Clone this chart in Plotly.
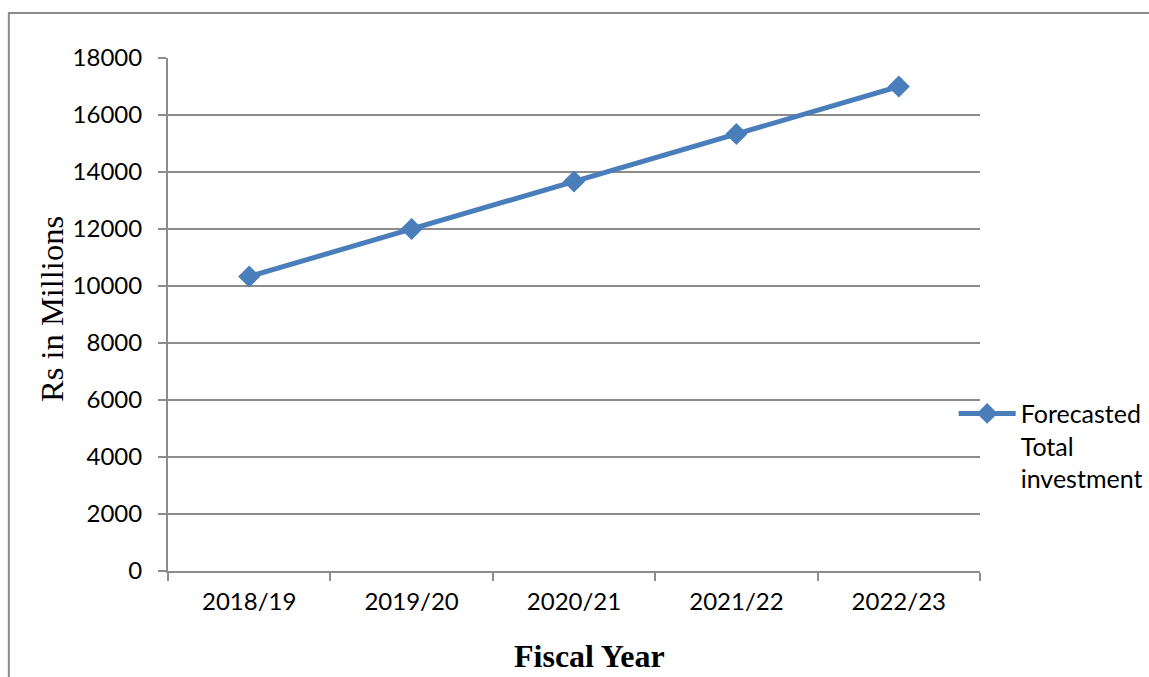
import plotly.graph_objects as go

# Forecasted total investment by fiscal year (Rs in millions)
fiscal_years = ["2018/19", "2019/20", "2020/21", "2021/22", "2022/23"]
investment = [10333, 12000, 13667, 15333, 17000]
series_name = "Forecasted<br>Total<br>investment"
x_title = "Fiscal Year"
y_title = "Rs in Millions"

BLUE = "#4a7ebb"
GRID = "#8c8c8c"

fig = go.Figure(
    go.Scatter(
        x=fiscal_years,
        y=investment,
        mode="lines+markers",
        name=series_name,
        line=dict(color=BLUE, width=5),
        marker=dict(symbol="diamond", size=17, color=BLUE),
    )
)

fig.update_layout(
    width=1149,
    height=677,
    margin=dict(l=168, r=169, t=58, b=106, autoexpand=False),
    paper_bgcolor="white",
    plot_bgcolor="white",
    font=dict(family="Lato", size=24, color="black"),
    showlegend=True,
    legend=dict(
        xref="container",
        yref="container",
        x=0.830,
        y=0.341,
        xanchor="left",
        yanchor="middle",
        valign="top",
        itemwidth=57,
        bgcolor="rgba(0,0,0,0)",
        font=dict(family="Lato", size=25, color="black"),
    ),
    xaxis=dict(
        type="category",
        range=[-0.5, 4.5],
        automargin=False,
        showgrid=False,
        showline=True,
        linecolor=GRID,
        linewidth=2,
        ticks="outside",
        tickson="boundaries",
        ticklen=8,
        tickcolor=GRID,
        tickwidth=2,
        ticklabelstandoff=8,
    ),
    yaxis=dict(
        range=[0, 18000],
        dtick=2000,
        tickformat="d",
        automargin=False,
        showgrid=True,
        gridcolor=GRID,
        gridwidth=2,
        zeroline=False,
        showline=True,
        linecolor=GRID,
        linewidth=2,
        ticks="outside",
        ticklen=8,
        tickcolor=GRID,
        tickwidth=2,
        ticklabelstandoff=11,
    ),
    annotations=[
        dict(
            text=f"<b>{x_title}</b>",
            xref="paper",
            yref="paper",
            x=0.5197,
            y=-0.165,
            xanchor="center",
            yanchor="middle",
            showarrow=False,
            borderpad=0,
            font=dict(family="Liberation Serif", size=32, color="black"),
        ),
        dict(
            text=y_title,
            xref="paper",
            yref="paper",
            x=-0.1429,
            y=0.5107,
            xanchor="center",
            yanchor="middle",
            textangle=-90,
            showarrow=False,
            font=dict(family="Liberation Serif", size=32.5, color="black"),
        ),
    ],
    shapes=[
        dict(
            type="rect",
            xref="paper",
            yref="paper",
            x0=-0.196,
            x1=1.35,
            y0=-0.4,
            y1=1.0877,
            line=dict(color="#8c8c8c", width=2),
            fillcolor="rgba(0,0,0,0)",
            layer="below",
        )
    ],
)

fig.write_html("out.html")
